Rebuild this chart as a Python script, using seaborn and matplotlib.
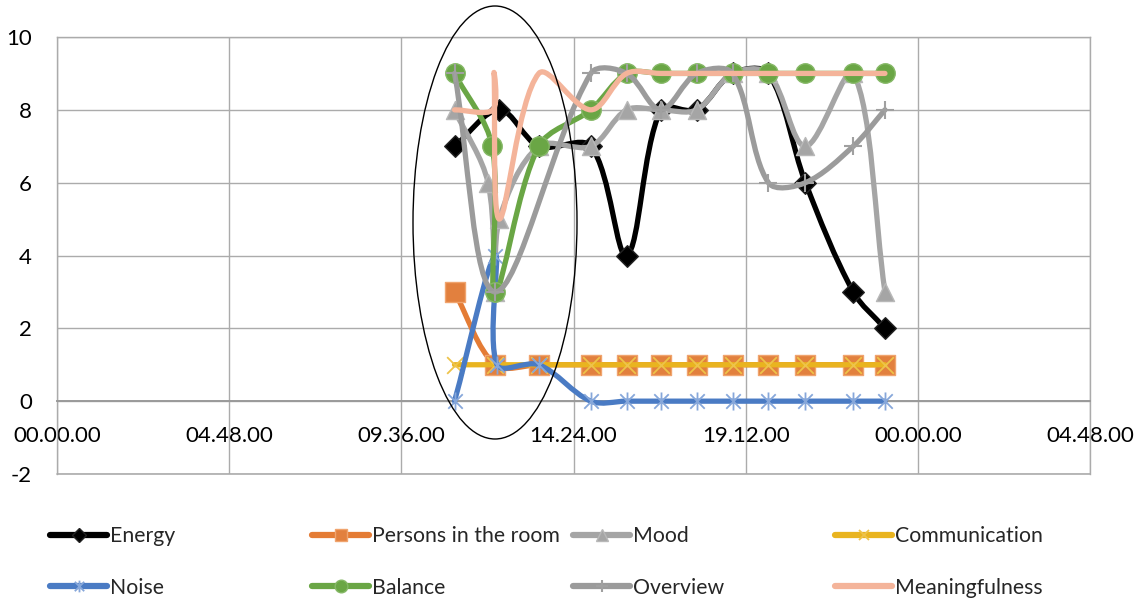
import numpy as np
import pandas as pd
import matplotlib
matplotlib.use("Agg")
import matplotlib.pyplot as plt
import matplotlib.ticker as ticker
import seaborn as sns
from matplotlib.path import Path
from matplotlib.patches import PathPatch, Ellipse
from matplotlib.lines import Line2D

# Measurements over one day (time of day, score)
energy_times = ['11:05', '12:20', '13:26', '14:53', '15:53', '16:50', '17:50', '18:50', '19:50', '20:52', '22:12', '23:05']
energy = [7, 8, 7, 7, 4, 8, 8, 9, 9, 6, 3, 2]

persons_times = ['11:05', '12:13', '13:26', '14:53', '15:53', '16:50', '17:50', '18:50', '19:50', '20:52', '22:12', '23:05']
persons = [3, 1, 1, 1, 1, 1, 1, 1, 1, 1, 1, 1]

mood_times = ['11:05', '12:01', '12:13', '12:20', '13:26', '14:53', '15:53', '16:50', '17:50', '18:50', '19:50', '20:52', '22:12', '23:05']
mood = [8, 6, 3, 5, 7, 7, 8, 8, 8, 9, 9, 7, 9, 3]

comm_times = ['11:05', '12:13', '13:26', '14:53', '15:53', '16:50', '17:50', '18:50', '19:50', '20:52', '22:12', '23:05']
communication = [1, 1, 1, 1, 1, 1, 1, 1, 1, 1, 1, 1]

noise_times = ['11:05', '12:13', '12:16', '13:26', '14:53', '15:53', '16:50', '17:50', '18:50', '19:50', '20:52', '22:12', '23:05']
noise = [0, 4, 1, 1, 0, 0, 0, 0, 0, 0, 0, 0, 0]

balance_times = ['11:05', '12:08', '12:13', '13:26', '14:53', '15:53', '16:50', '17:50', '18:50', '19:50', '20:52', '22:12', '23:05']
balance = [9, 7, 3, 7, 8, 9, 9, 9, 9, 9, 9, 9, 9]

overview_times = ['11:05', '12:13', '14:53', '15:53', '16:50', '17:50', '18:50', '19:50', '20:52', '22:12', '23:05']
overview = [9, 3, 9, 9, 8, 9, 9, 6, 6, 7, 8]

meaning_times = ['11:05', '12:09', '12:11', '12:20', '13:26', '14:53', '15:53', '16:50', '17:50', '18:50', '19:50', '20:52', '22:12', '23:05']
meaning = [8, 8, 9, 5, 9, 8, 9, 9, 9, 9, 9, 9, 9, 9]

x_ticks = [0, 0.2, 0.4, 0.6, 0.8, 1.0, 1.2]
y_ticks = [-2, 0, 2, 4, 6, 8, 10]


def day_fraction(times):
    return (pd.to_timedelta([t + ':00' for t in times]) / pd.Timedelta(days=1)).to_numpy()


# name, times, values, line colour, marker, marker size, face, edge, marker lw
series = [
    ("Energy", energy_times, energy, "#000000", "D", 11, "#000000", "#222222", 1.0),
    ("Persons in the room", persons_times, persons, "#E47C35", "s", 14, "#E2803E", "#F0A46E", 1.0),
    ("Mood", mood_times, mood, "#A5A5A5", "^", 13, "#A5A5A5", "#B8B8B8", 1.0),
    ("Communication", comm_times, communication, "#E9B41F", "x", 12, "#EEC34A", "#EEC34A", 1.3),
    ("Noise", noise_times, noise, "#4A7BC4", "ast", 13, "#86A7DA", "#86A7DA", 1.3),
    ("Balance", balance_times, balance, "#6AA645", "o", 14, "#6AA645", "#85B866", 1.0),
    ("Overview", overview_times, overview, "#9B9B9B", "+", 13, "#A0A0A0", "#A0A0A0", 1.5),
    ("Meaningfulness", meaning_times, meaning, "#F4B49A", None, 0, None, None, 0),
]

# asterisk marker: vertical bar plus an x
ast_marker = Path(
    [(0, -1), (0, 1), (-0.8, -0.8), (0.8, 0.8), (-0.8, 0.8), (0.8, -0.8)],
    [Path.MOVETO, Path.LINETO, Path.MOVETO, Path.LINETO, Path.MOVETO, Path.LINETO],
)

sns.set_style("white")
plt.rcParams['font.family'] = ['Lato', 'DejaVu Sans']
plt.rcParams['axes.unicode_minus'] = False

fig = plt.figure(figsize=(11.43, 6), dpi=100)
ax = fig.add_axes([57 / 1143, 1 - 474 / 600, (1090 - 57) / 1143, (474 - 37) / 600])
ax.set_xlim(0, 1.2)
ax.set_ylim(-2, 10)


def smooth_path(xs, ys):
    # Excel-like smoothed line: cubic Bezier segments, tangents scaled by segment length
    pts = ax.transData.transform(np.column_stack([xs, ys]))
    n = len(pts)
    verts = [pts[0]]
    codes = [Path.MOVETO]
    for i in range(n - 1):
        p0 = pts[i - 1] if i > 0 else pts[i]
        p1, p2 = pts[i], pts[i + 1]
        p3 = pts[i + 2] if i + 2 < n else pts[i + 1]
        d01 = np.hypot(*(p1 - p0))
        d12 = np.hypot(*(p2 - p1))
        d23 = np.hypot(*(p3 - p2))
        s1 = d12 / (d01 + d12) if d01 + d12 > 0 else 0
        s2 = d12 / (d12 + d23) if d12 + d23 > 0 else 0
        c1 = p1 + (p2 - p0) * s1 / 3
        c2 = p2 - (p3 - p1) * s2 / 3
        verts += [c1, c2, p2]
        codes += [Path.CURVE4] * 3
    verts = ax.transData.inverted().transform(np.array(verts))
    return Path(verts, codes)


legend_handles = []
for i, (name, times, vals, col, mk, ms, fc, ec, mlw) in enumerate(series):
    xs = day_fraction(times)
    ys = np.array(vals, dtype=float)
    patch = PathPatch(smooth_path(xs, ys), fill=False, edgecolor=col, lw=3.8,
                      capstyle='round', joinstyle='round', zorder=3 + 2 * i)
    ax.add_patch(patch)
    marker = ast_marker if mk == "ast" else mk
    if mk is not None:
        df = pd.DataFrame({"time": xs, "value": ys})
        sns.scatterplot(data=df, x="time", y="value", marker=marker, s=ms ** 2,
                        color=fc, edgecolor=ec, linewidth=mlw, ax=ax,
                        zorder=4 + 2 * i, legend=False, clip_on=False)
    legend_handles.append(Line2D([], [], color=col, lw=4.5, solid_capstyle='round',
                                 marker=marker, markersize=ms * 0.65 if mk else 0,
                                 markerfacecolor=fc, markeredgecolor=ec,
                                 markeredgewidth=mlw))

# axes styling in the Excel look
grid_col = "#ABABAB"
ax.set_xticks(x_ticks)
ax.set_yticks(y_ticks)
ax.grid(True, color=grid_col, lw=1.0, zorder=0)
ax.set_axisbelow(True)
for side in ["left", "top", "right"]:
    ax.spines[side].set_color(grid_col)
    ax.spines[side].set_linewidth(1.0)
ax.spines["bottom"].set_position(("data", 0))
ax.spines["bottom"].set_color("#9A9A9A")
ax.spines["bottom"].set_linewidth(1.4)
ax.axhline(-2, color=grid_col, lw=1.2, zorder=0, clip_on=False)


def fmt_time(v, pos):
    secs = int(round(v * 86400)) % 86400
    return "%02d.%02d.%02d" % (secs // 3600, (secs % 3600) // 60, secs % 60)


ax.xaxis.set_major_formatter(ticker.FuncFormatter(fmt_time))
ax.tick_params(axis="x", length=0, pad=18, labelsize=16, colors="black")
ax.tick_params(axis="y", length=0, pad=18, labelsize=16, colors="black")
ax.set_xlabel("")
ax.set_ylabel("")

# highlight ellipse around the midday dip
fig.add_artist(Ellipse((495 / 1143, 1 - 222.5 / 600), 164 / 1143, 433 / 600,
                       transform=fig.transFigure, fill=False, edgecolor="black", lw=1.0, zorder=50))

# legend: four columns, two rows
col_x = [50, 312, 573, 835]
for c in range(4):
    hs = [legend_handles[c], legend_handles[c + 4]]
    labels = [series[c][0], series[c + 4][0]]
    fig.legend(hs, labels, loc="upper left", bbox_to_anchor=(col_x[c] / 1143, 1 - 526 / 600),
               frameon=False, borderpad=0, borderaxespad=0, handlelength=2.7,
               handletextpad=0.12, labelspacing=1.5, fontsize=15.3)

fig.savefig("out.png", dpi=100)
